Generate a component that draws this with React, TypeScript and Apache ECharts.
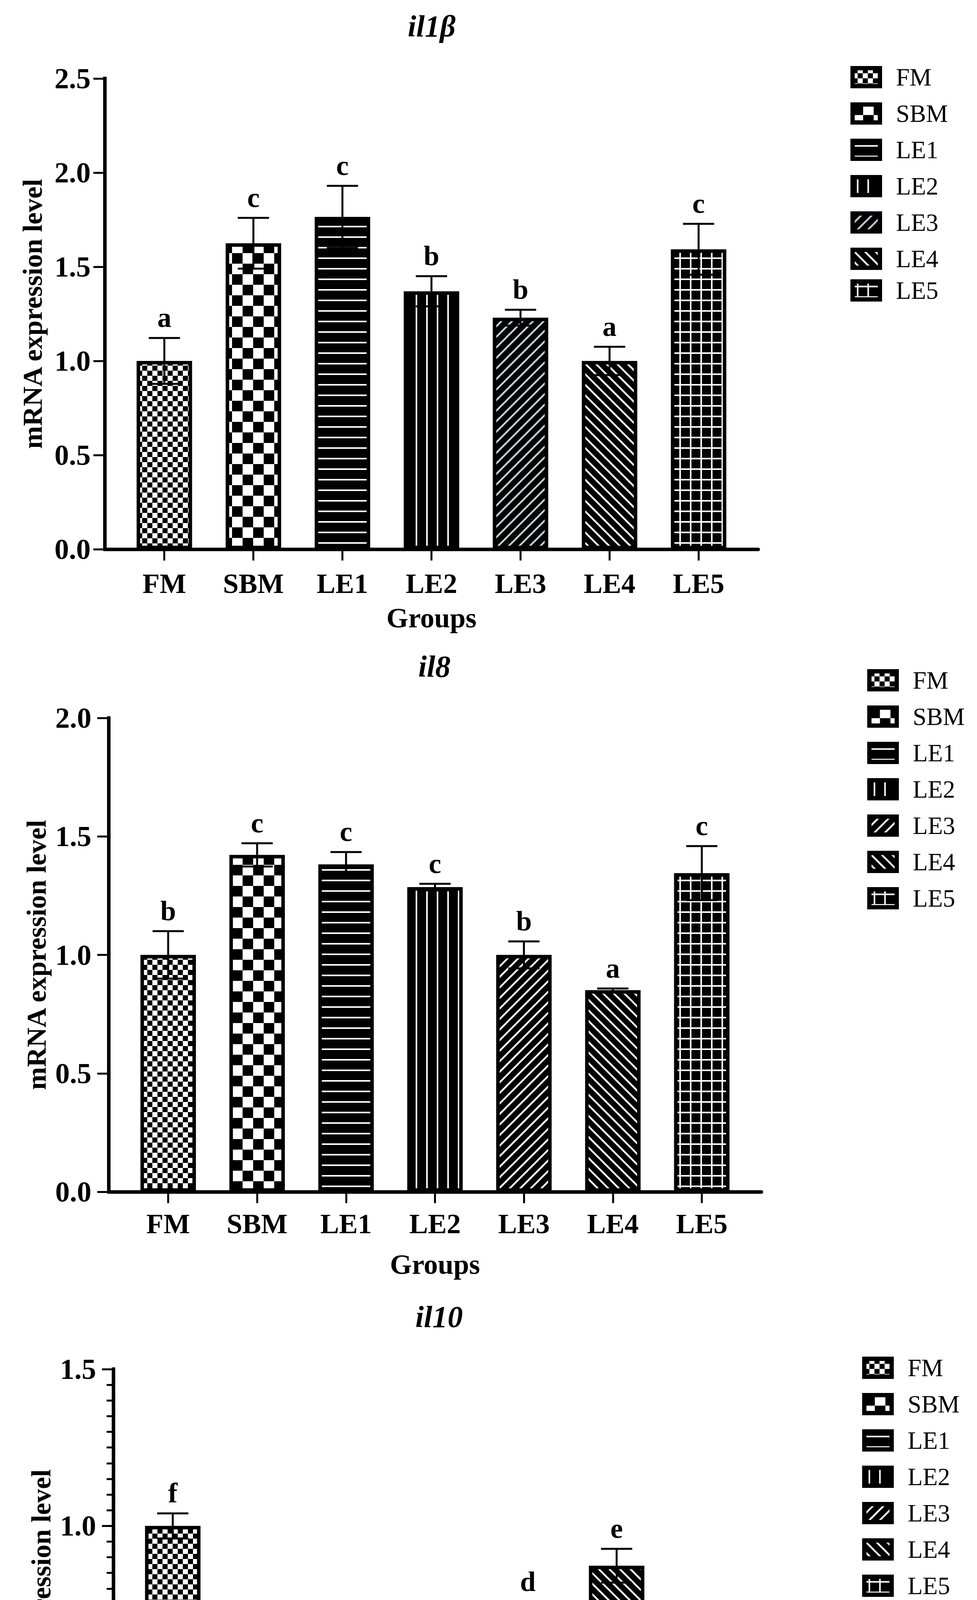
import React, { useEffect, useRef } from "react";
import * as echarts from "echarts";

const groups = ["FM", "SBM", "LE1", "LE2", "LE3", "LE4", "LE5"];
const titles = ["il1β", "il8", "il10"];

const il1bMeans = [1.0, 1.625, 1.765, 1.37, 1.23, 1.0, 1.593];
const il1bErrs = [0.122, 0.135, 0.165, 0.08, 0.042, 0.075, 0.135];
const il1bLetters = ["a", "c", "c", "b", "b", "a", "c"];

const il8Means = [1.0, 1.422, 1.382, 1.286, 1.0, 0.851, 1.345];
const il8Errs = [0.1, 0.049, 0.052, 0.014, 0.057, 0.007, 0.114];
const il8Letters = ["b", "c", "c", "c", "b", "a", "c"];

const il10Means = [1.0, 0.273, 0.25, 0.352, 0.716, 0.873, 0.533];
const il10Errs = [0.04, 0.05, 0.042, 0.018, 0.042, 0.054, 0.03];
const il10Letters = ["f", "a", "a", "b", "d", "e", "c"];

const yMax = [2.5, 2.0, 1.5];
const yInterval = 0.5;

const FONT = '"Liberation Serif", "Times New Roman", serif';

type Layout = {
  left: number; top: number; width: number; height: number;
  titleX: number; titleY: number;
  legendLeft: number; legendTop: number; lastLegendTop: number | null;
  yLabelMargin: number; yNameGap: number; xLabelMargin: number; xNameGap: number;
  minor: boolean;
};

const layouts: Layout[] = [
  { left: 268, top: 201, width: 1673, height: 1205, titleX: 1105, titleY: 66, legendLeft: 2177, legendTop: 166, lastLegendTop: 712, yLabelMargin: 36, yNameGap: 150, xLabelMargin: 52, xNameGap: 140, minor: false },
  { left: 278, top: 1838, width: 1671, height: 1213, titleX: 1112, titleY: 1705, legendLeft: 2220, legendTop: 1710, lastLegendTop: null, yLabelMargin: 44, yNameGap: 150, xLabelMargin: 46, xNameGap: 150, minor: false },
  { left: 290, top: 3505, width: 1668, height: 1204, titleX: 1124, titleY: 3370, legendLeft: 2207, legendTop: 3470, lastLegendTop: null, yLabelMargin: 44, yNameGap: 150, xLabelMargin: 51, xNameGap: 146, minor: true },
];

function makeTile(kind: string, lineColor: string) {
  const s = kind === "FM" ? 26 : kind === "SBM" ? 54 : 27;
  const cv = document.createElement("canvas");
  cv.width = s;
  cv.height = s;
  const ctx = cv.getContext("2d") as CanvasRenderingContext2D;
  if (kind === "FM" || kind === "SBM") {
    const h = s / 2;
    ctx.fillStyle = "#ffffff";
    ctx.fillRect(0, 0, s, s);
    ctx.fillStyle = "#000000";
    ctx.fillRect(0, 0, h, h);
    ctx.fillRect(h, h, h, h);
  } else {
    ctx.fillStyle = "#000000";
    ctx.fillRect(0, 0, s, s);
    ctx.fillStyle = lineColor;
    ctx.strokeStyle = lineColor;
    ctx.lineWidth = 4.5;
    if (kind === "LE1") ctx.fillRect(0, 11, s, 4);
    if (kind === "LE2") ctx.fillRect(11, 0, 4, s);
    if (kind === "LE5") {
      ctx.fillRect(0, 11, s, 4);
      ctx.fillRect(11, 0, 4, s);
    }
    if (kind === "LE3") {
      for (const o of [-s, 0, s]) {
        ctx.beginPath();
        ctx.moveTo(o - 2, s + 2);
        ctx.lineTo(o + s + 2, -2);
        ctx.stroke();
      }
    }
    if (kind === "LE4") {
      for (const o of [-s, 0, s]) {
        ctx.beginPath();
        ctx.moveTo(o - 2, -2);
        ctx.lineTo(o + s + 2, s + 2);
        ctx.stroke();
      }
    }
  }
  return { image: cv, repeat: "repeat", imageWidth: s, imageHeight: s } as any;
}

export default function App() {
  const ref = useRef<HTMLDivElement>(null);
  useEffect(() => {
    if (!ref.current) return;
    const chart = echarts.init(ref.current, undefined, { renderer: "svg" });
    const means = [il1bMeans, il8Means, il10Means];
    const errs = [il1bErrs, il8Errs, il10Errs];
    const letters = [il1bLetters, il8Letters, il10Letters];
    const tickVals = groups.map((_, i) => i);

    const grid: any[] = [];
    const xAxis: any[] = [];
    const yAxis: any[] = [];
    const series: any[] = [];
    const legend: any[] = [];
    const graphic: any[] = [];

    const legendBase = (data: string[], left: number, top: number) => ({
      data, left, top, orient: "vertical", padding: 0,
      itemWidth: 70, itemHeight: 46, itemGap: 30, icon: "rect", selectedMode: false,
      itemStyle: { borderColor: "#000", borderWidth: 11 },
      formatter: (n: string) => n.split("#")[0],
      textStyle: { color: "#000", fontFamily: FONT, fontSize: 63, lineHeight: 48, padding: [0, 0, 0, 36] },
    });

    layouts.forEach((L, c) => {
      grid.push({ left: L.left, top: L.top, width: L.width, height: L.height, containLabel: false, outerBoundsMode: "none" });
      xAxis.push({
        type: "value", gridIndex: c, min: -0.67, max: 6.67,
        axisLine: { show: true, onZero: false, lineStyle: { color: "#000", width: 9 } },
        axisTick: { show: true, customValues: tickVals, length: 29, lineStyle: { color: "#000", width: 5 } },
        axisLabel: {
          show: true, customValues: tickVals, margin: L.xLabelMargin,
          formatter: (v: number) => groups[Math.round(v)] ?? "",
          color: "#000", fontFamily: FONT, fontWeight: "bold", fontSize: 72,
        },
        splitLine: { show: false },
        name: "Groups", nameLocation: "middle", nameGap: L.xNameGap,
        nameTextStyle: { color: "#000", fontFamily: FONT, fontWeight: "bold", fontSize: 72 },
      });
      yAxis.push({
        type: "value", gridIndex: c, min: 0, max: yMax[c], interval: yInterval,
        axisLine: { show: true, onZero: false, lineStyle: { color: "#000", width: 9, cap: "square" } },
        axisTick: { show: true, length: 29, lineStyle: { color: "#000", width: 5 } },
        minorTick: { show: L.minor, splitNumber: 10, length: 17, lineStyle: { color: "#000", width: 5 } },
        axisLabel: {
          show: true, margin: L.yLabelMargin, formatter: (v: number) => v.toFixed(1),
          color: "#000", fontFamily: FONT, fontWeight: "bold", fontSize: 74,
        },
        splitLine: { show: false },
        name: "mRNA expression level", nameLocation: "middle", nameGap: L.yNameGap,
        nameTextStyle: { color: "#000", fontFamily: FONT, fontWeight: "bold", fontSize: 70 },
      });
      const names: string[] = [];
      groups.forEach((g, i) => {
        const nm = `${g}#${c}`;
        names.push(nm);
        series.push({
          type: "bar", name: nm, xAxisIndex: c, yAxisIndex: c,
          data: [[i, means[c][i]]], barWidth: 142, barGap: "-100%",
          itemStyle: { color: makeTile(g, c === 0 && g === "LE3" ? "#c3d3d3" : "#ffffff"), borderColor: "#000", borderWidth: 9 },
          emphasis: { disabled: true }, z: 2,
        });
      });
      const lt = letters[c];
      series.push({
        type: "custom", name: `err${c}`, xAxisIndex: c, yAxisIndex: c, z: 5,
        encode: { x: 0, y: 1 },
        data: groups.map((_, i) => [i, means[c][i], errs[c][i]]),
        renderItem: (params: any, api: any) => {
          const i = api.value(0);
          const m = api.value(1);
          const e = api.value(2);
          const pTop = api.coord([i, m + e]);
          const pLow = api.coord([i, m - e]);
          const cap = 40;
          const ls = { stroke: "#000", lineWidth: 5 };
          return {
            type: "group",
            children: [
              { type: "line", shape: { x1: pTop[0], y1: pTop[1], x2: pLow[0], y2: pLow[1] }, style: ls },
              { type: "line", shape: { x1: pTop[0] - cap, y1: pTop[1], x2: pTop[0] + cap, y2: pTop[1] }, style: ls },
              { type: "line", shape: { x1: pLow[0] - cap, y1: pLow[1], x2: pLow[0] + cap, y2: pLow[1] }, style: ls },
              {
                type: "text", x: pTop[0], y: pTop[1] - 52,
                style: { text: lt[params.dataIndex], fill: "#000", font: `bold 72px ${FONT}`, align: "center", verticalAlign: "middle" },
              },
            ],
          };
        },
      });
      if (L.lastLegendTop !== null) {
        legend.push(legendBase(names.slice(0, 6), L.legendLeft, L.legendTop));
        legend.push(legendBase(names.slice(6), L.legendLeft, L.lastLegendTop));
      } else {
        legend.push(legendBase(names, L.legendLeft, L.legendTop));
      }
      graphic.push({
        type: "text", x: L.titleX, y: L.titleY,
        style: { text: titles[c], fill: "#000", font: `italic bold 78px ${FONT}`, align: "center", verticalAlign: "middle" },
      });
    });

    chart.setOption({
      animation: false,
      backgroundColor: "#ffffff",
      textStyle: { fontFamily: FONT },
      grid, xAxis, yAxis, series, legend, graphic,
    });
    return () => chart.dispose();
  }, []);
  return <div ref={ref} style={{ position: "absolute", left: 0, top: 0, width: 2501, height: 4967 }} />;
}
